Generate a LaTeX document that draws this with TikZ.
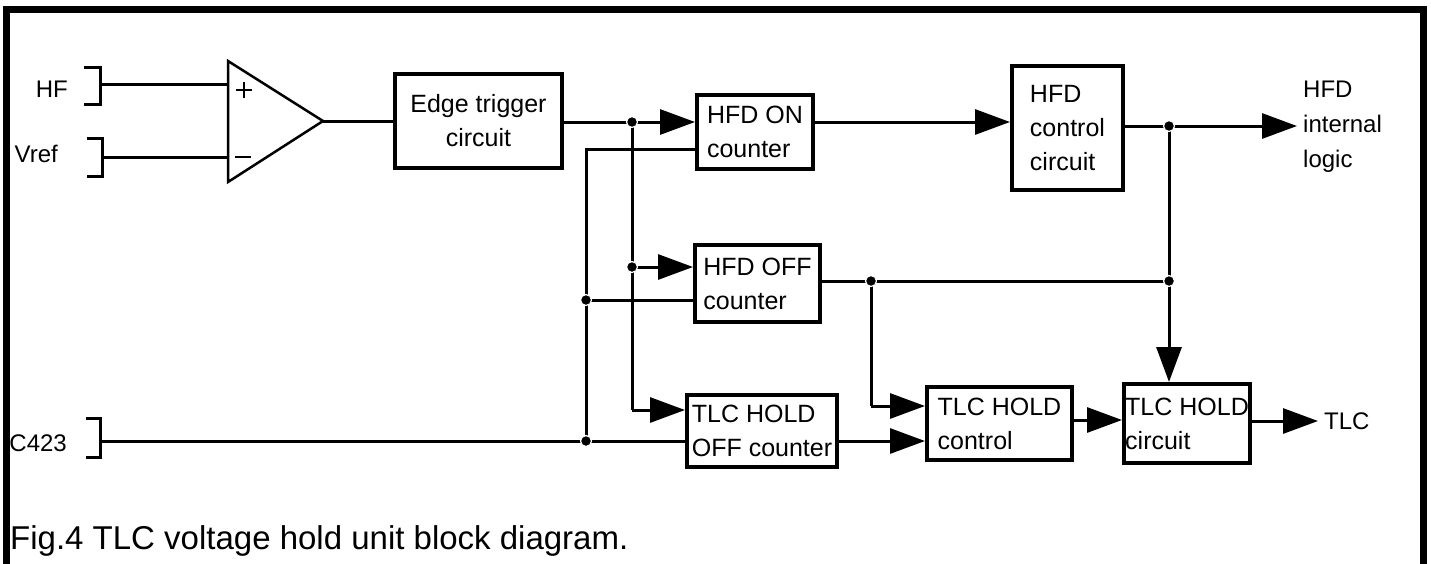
\documentclass[tikz,border=0pt]{standalone}
\usepackage{fontspec}
\setmainfont{Liberation Sans}
\usepackage{tikz}
\usetikzlibrary{arrows.meta}
\newcommand{\blkfont}{\fontsize{25}{34}\selectfont}
\newcommand{\pinfont}{\fontsize{24}{35}\selectfont}
\newcommand{\capfont}{\fontsize{33}{38}\selectfont}
\tikzset{
    block/.style = {draw=black, line width=4pt, inner sep=0pt,
        align=left, anchor=north west, font=\blkfont},
    block_c/.style = {block, align=center},
    sig/.style = {line width=3pt},
    sig_arr/.style = {sig, -{Triangle[length=35pt,width=25pt]}},
    junct/.style = {circle, fill=black, draw=white, line width=1.2pt,
        inner sep=0pt, minimum size=11pt},
    pin_lbl/.style = {inner xsep=6pt, inner ysep=0pt, align=left, font=\pinfont},
}

\begin{document}
\begin{tikzpicture}[x=1pt,y=-1pt]
        \useasboundingbox (0,0) rectangle (1431,563);
        % frame
        \draw[line width=7pt] (6,570) -- (6,9) -- (1423,9) -- (1423,570);

        % inputs
        \node (hf) [pin_lbl, anchor=east] at (74,89) {HF};
        \node (vref) [pin_lbl, anchor=east] at (64,154) {Vref};
        \node (c423) [pin_lbl, anchor=east] at (73,443) {C423};
        \draw[sig] (84,67) -- (100,67) -- (100,104) -- (84,104);
        \draw[sig] (87,138) -- (102,138) -- (102,176) -- (87,176);
        \draw[sig] (86,418) -- (100,418) -- (100,457) -- (86,457);
        \coordinate (hf_in) at (100,84);
        \coordinate (vref_in) at (102,157);
        \coordinate (c423_in) at (100,441);

        % comparator
        \draw[line width=2.5pt, line join=miter] (228,61) -- (323,121) -- (228,182) -- cycle;
        \draw[line width=2pt] (236,90) -- (252,90) (244,82) -- (244,98);
        \draw[line width=2pt] (235,157) -- (251,157);
        \coordinate (amp_p) at (228,84);
        \coordinate (amp_n) at (228,157);
        \coordinate (amp_out) at (323,121);

        % blocks
        \node (edge) [block_c, minimum width=167pt, minimum height=94pt] at (393,72) {Edge trigger\\circuit};
        \node (hfd_on) [block, minimum width=116pt, minimum height=74pt] at (695,93) {HFD ON\\counter};
        \node (hfd_ctl) [block, minimum width=111pt, minimum height=124pt] at (1010,64) {HFD\\control\\circuit};
        \node (hfd_off) [block, minimum width=125pt, minimum height=77pt] at (693,243) {HFD OFF\\counter};
        \node (hold_off) [block, minimum width=150pt, minimum height=72pt] at (685,393) {TLC HOLD\\OFF counter};
        \node (hold_ctl) [block, minimum width=145pt, minimum height=73pt] at (925,385) {TLC HOLD\\control};
        \node (hold_cir) [block, minimum width=126pt, minimum height=79pt] at (1122,382) {TLC HOLD\\circuit};

        % outputs
        \node (hfd_lbl) [pin_lbl, anchor=west] at (1297,127) {HFD\\internal\\logic};
        \node (tlc_lbl) [pin_lbl, anchor=west] at (1318,421) {TLC};

        % junctions
        \coordinate (ja) at (632,122);
        \coordinate (jb) at (632,267);
        \coordinate (jc) at (632,410);
        \coordinate (jd) at (586,149);
        \coordinate (je) at (586,300);
        \coordinate (jf) at (586,441);
        \coordinate (jg) at (871,281);
        \coordinate (jh) at (871,406);
        \coordinate (ji) at (1169,126);
        \coordinate (jk) at (1169,281);

        % connectors
        \draw[sig] (hf_in) -- (amp_p);
        \draw[sig] (vref_in) -- (amp_n);
        \draw[sig] (amp_out) -- (amp_out -| edge.west);
        \draw[sig] (edge.east |- ja) -- (ja);
        \draw[sig_arr] (ja) -- (ja -| hfd_on.west);
        \draw[sig] (ja) -- (jc);
        \draw[sig_arr] (jc) -- (jc -| hold_off.west);
        \draw[sig_arr] (jb) -- (jb -| hfd_off.west);
        \draw[sig] (hfd_on.west |- jd) -- (jd) -- (jf);
        \draw[sig] (je) -- (je -| hfd_off.west);
        \draw[sig] (c423_in) -- (jf) -- (jf -| hold_off.west);
        \draw[sig_arr] (hfd_on.east |- ja) -- (ja -| hfd_ctl.west);
        \draw[sig] (hfd_ctl.east |- ji) -- (ji);
        \draw[sig_arr] (ji) -- (ji -| hfd_lbl.west);
        \draw[sig] (ji) -- (jk);
        \draw[sig_arr] (jk) -- (jk |- hold_cir.north);
        \draw[sig] (hfd_off.east |- jg) -- (jg) -- (jk);
        \draw[sig] (jg) -- (jh);
        \draw[sig_arr] (jh) -- (jh -| hold_ctl.west);
        \draw[sig_arr] (hold_off.east |- jf) -- (jf -| hold_ctl.west);
        \draw[sig_arr] (hold_ctl.east |- 0,420) -- (hold_cir.west |- 0,420);
        \draw[sig_arr] (hold_cir.east |- tlc_lbl.west) -- (tlc_lbl.west);

        \node[junct] at (ja) {};
        \node[junct] at (jb) {};
        \node[junct] at (je) {};
        \node[junct] at (jf) {};
        \node[junct] at (jg) {};
        \node[junct] at (ji) {};
        \node[junct] at (jk) {};

        % caption
        \node (caption) [anchor=base west, inner sep=0pt, font=\capfont] at (10,549) {Fig.4 TLC voltage hold unit block diagram.};
\end{tikzpicture}
\end{document}
